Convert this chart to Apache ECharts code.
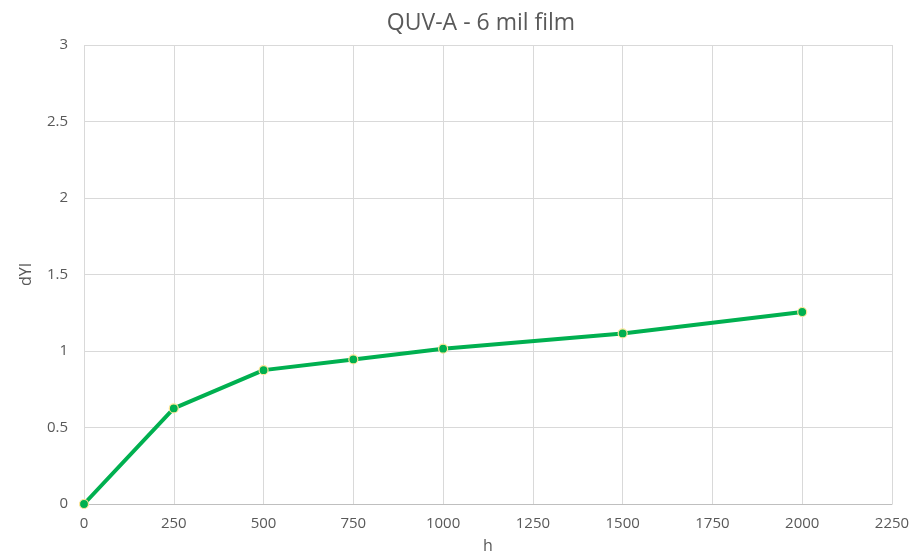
<!doctype html>
<html lang="en">
<head>
    <meta charset="UTF-8">
    <title>QUV-A - 6 mil film</title>
    <script src="https://cdn.jsdelivr.net/npm/echarts@6/dist/echarts.min.js"></script>
    <style>
        html, body { margin: 0; padding: 0; background: #fff; }
        #chart { width: 914px; height: 559px; }
    </style>
</head>
<body>
<div id="chart"></div>
<script>
    // data
    const hours = [0, 250, 500, 750, 1000, 1500, 2000]
    const dYI = [0, 0.625, 0.875, 0.945, 1.015, 1.115, 1.255]

    const chart = echarts.init(document.getElementById('chart'))
    const font = '"Open Sans", "Noto Sans", sans-serif'

    const option = {
        animation: false,
        textStyle: { fontFamily: font },
        title: {
            text: 'QUV-A - 6 mil film',
            left: 476,
            top: 7,
            textAlign: 'center',
            textStyle: { fontFamily: font, fontSize: 23, fontWeight: 'normal', color: '#595959' }
        },
        grid: { left: 84, right: 22, top: 45, bottom: 55, containLabel: false },
        xAxis: {
            type: 'value',
            min: 0, max: 2250, interval: 250,
            name: 'h', nameLocation: 'middle', nameGap: 34,
            nameTextStyle: { fontSize: 16, color: '#595959' },
            axisLine: { show: true, lineStyle: { color: '#bfbfbf' } },
            axisTick: { show: false },
            axisLabel: { color: '#595959', fontSize: 15, margin: 12, formatter: v => String(v) },
            splitLine: { show: true, lineStyle: { color: '#d9d9d9' } }
        },
        yAxis: {
            type: 'value',
            min: 0, max: 3, interval: 0.5,
            name: 'dYI', nameLocation: 'middle', nameGap: 50, nameRotate: 90,
            nameTextStyle: { fontSize: 16, color: '#595959' },
            axisLine: { show: false },
            axisTick: { show: false },
            axisLabel: { color: '#595959', fontSize: 15, margin: 16 },
            splitLine: { show: true, lineStyle: { color: '#d9d9d9' } }
        },
        series: [{
            type: 'line',
            data: hours.map((h, i) => [h, dYI[i]]),
            lineStyle: { color: '#00b050', width: 4 },
            symbol: 'circle',
            symbolSize: 9,
            itemStyle: { color: '#00b050', borderColor: '#ffe699', borderWidth: 1.2 },
            z: 3
        }]
    }
    chart.setOption(option)
</script>
</body>
</html>
